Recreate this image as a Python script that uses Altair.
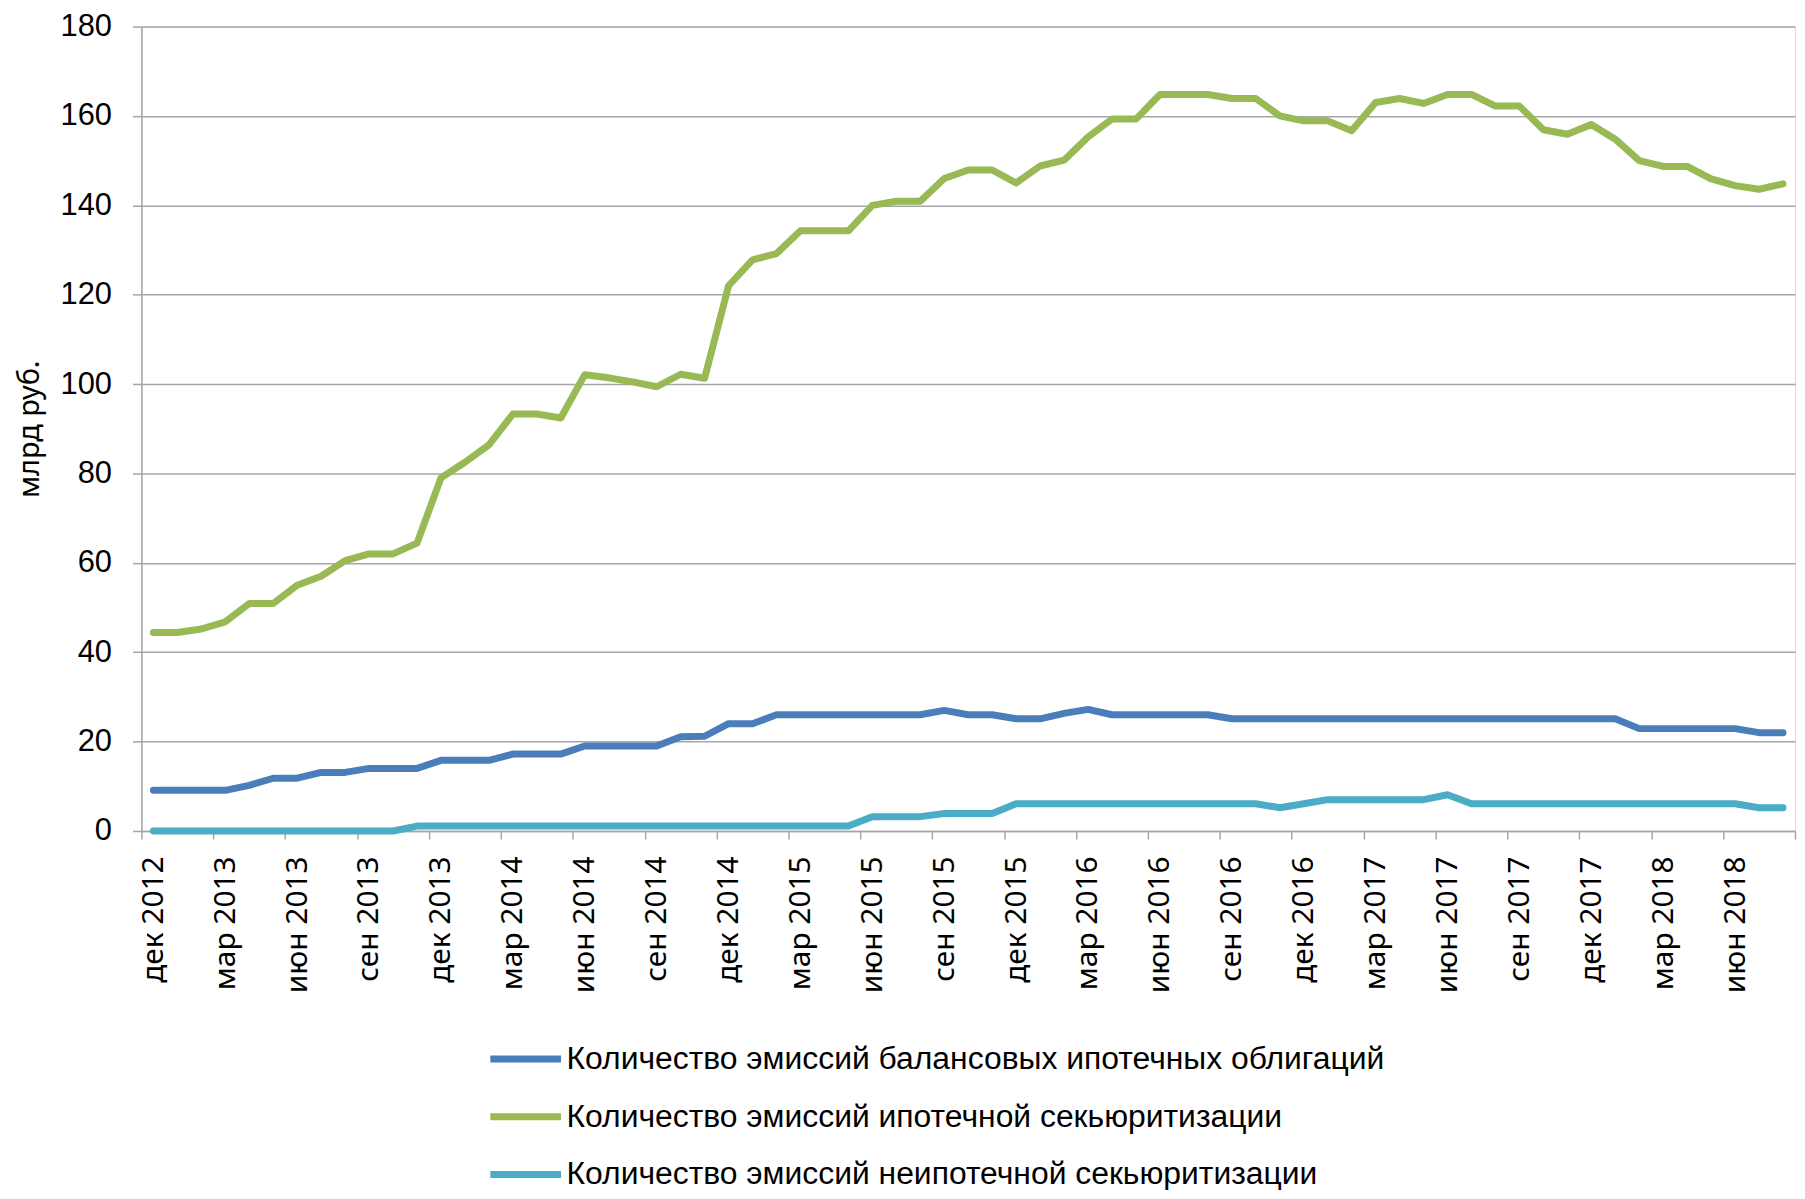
import altair as alt
import pandas as pd

# x: monthly points, дек 2012 (0) .. авг 2018 (68)
tick_labels = ["дек 2012", "мар 2013", "июн 2013", "сен 2013", "дек 2013", "мар 2014",
               "июн 2014", "сен 2014", "дек 2014", "мар 2015", "июн 2015", "сен 2015",
               "дек 2015", "мар 2016", "июн 2016", "сен 2016", "дек 2016", "мар 2017",
               "июн 2017", "сен 2017", "дек 2017", "мар 2018", "июн 2018"]

series_names = ["Количество эмиссий балансовых ипотечных облигаций",
                "Количество эмиссий ипотечной секьюритизации",
                "Количество эмиссий неипотечной секьюритизации"]
series_colors = ["#4A7EBB", "#98B954", "#4BACC6"]

balance = [9.1, 9.1, 9.1, 9.1, 10.2, 11.8, 11.8, 13.1, 13.1, 14, 14, 14,
           15.8, 15.8, 15.8, 17.2, 17.2, 17.2, 19, 19, 19, 19, 21.1, 21.2,
           24, 24, 26, 26, 26, 26, 26, 26, 26, 27, 26, 26,
           25.1, 25.1, 26.3, 27.2, 26, 26, 26, 26, 26, 25.1,
           25.1, 25.1, 25.1, 25.1, 25.1, 25.1, 25.1, 25.1, 25.1, 25.1, 25.1, 25.1,
           25.1, 25.1, 25.1, 25.1,
           22.9, 22.9, 22.9, 22.9, 22.9, 22, 22]

mortgage = [44.4, 44.4, 45.2, 46.8, 50.9, 50.9, 55, 57, 60.5, 62, 62, 64.4,
            79, 82.5, 86.4, 93.3, 93.3, 92.4, 102.1, 101.4, 100.5, 99.4, 102.2, 101.3,
            122, 127.8, 129.2, 134.3, 134.3, 134.3, 140, 140.9, 140.9, 146, 147.9, 147.9,
            145, 148.8, 150.1, 155.3, 159.3, 159.3, 164.8, 164.8, 164.8, 163.9, 163.9, 160,
            158.9, 158.9, 156.7, 163, 163.9, 162.8, 164.8, 164.8, 162.2, 162.2, 156.9, 155.9,
            158.1, 154.8, 150, 148.7, 148.7, 145.9, 144.4, 143.6, 144.8]

nonmortgage = [0, 0, 0, 0, 0, 0, 0, 0, 0, 0, 0,
               1.1, 1.1, 1.1, 1.1, 1.1, 1.1, 1.1, 1.1, 1.1, 1.1, 1.1, 1.1, 1.1, 1.1,
               1.1, 1.1, 1.1, 1.1, 1.1,
               3.2, 3.2, 3.2, 3.9, 3.9, 3.9,
               6.1, 6.1, 6.1, 6.1, 6.1, 6.1, 6.1, 6.1, 6.1, 6.1, 6.1,
               5.2, 6.1, 7, 7, 7, 7, 7, 8.1,
               6.1, 6.1, 6.1, 6.1, 6.1, 6.1, 6.1, 6.1, 6.1, 6.1, 6.1, 6.1,
               5.2, 5.2]

rows = []
for name, vals in zip(series_names, [balance, mortgage, nonmortgage]):
    for i, v in enumerate(vals):
        rows.append({"idx": i, "value": v, "series": name})
df = pd.DataFrame(rows)

n = len(mortgage)
tick_pos = [-0.5 + 3 * k for k in range(len(tick_labels) + 1)]
label_arr = "[" + ",".join("'" + s + "'" for s in tick_labels + [""]) + "]"
label_expr = label_arr + "[round((datum.value + 0.5) / 3)]"

GRID = "#A6A6A6"
TOP = 16
W, H = 1661, 808

chart = alt.Chart(df).mark_line(strokeWidth=7, strokeCap="round", strokeJoin="round").encode(
    x=alt.X("idx:Q",
            scale=alt.Scale(domain=[-0.5, n - 0.5], nice=False, zero=False),
            axis=alt.Axis(values=tick_pos, labelExpr=label_expr, title=None, grid=False,
                          labelAngle=270, labelAlign="right", labelBaseline="middle",
                          labelOffset=12, labelFlush=False, labelOverlap=False, labelBound=False,
                          labelFont="Noto Sans", labelFontSize=30, labelColor="#000000",
                          labelPadding=17, tickSize=8, tickColor=GRID, tickWidth=1.5,
                          domainColor=GRID, domainWidth=1.5)),
    y=alt.Y("value:Q",
            scale=alt.Scale(domain=[0, 180], nice=False),
            axis=alt.Axis(values=list(range(0, 181, 20)), title="млрд руб.",
                          grid=True, gridColor=GRID, gridWidth=1.5,
                          domainColor=GRID, domainWidth=1.5,
                          tickColor=GRID, tickWidth=1.5, tickSize=9,
                          labelFont="Liberation Sans", labelFontSize=31, labelColor="#000000",
                          labelPadding=21,
                          titleFont="Noto Sans", titleFontSize=29, titleFontWeight="normal",
                          titleColor="#000000", titleAngle=270, titleX=-112, titleY=H / 2,
                          titleAlign="center", titleBaseline="middle")),
    color=alt.Color("series:N",
                    scale=alt.Scale(domain=series_names, range=series_colors),
                    sort=series_names,
                    legend=alt.Legend(orient="none", legendX=347, legendY=1002 + 12 - TOP,
                                      title=None,
                                      symbolType="stroke", symbolSize=5041, symbolStrokeWidth=7,
                                      labelFont="Liberation Sans", labelFontSize=32,
                                      labelColor="#000000", labelOffset=2, rowPadding=3,
                                      labelLimit=0, direction="vertical")),
    order="idx:Q",
).properties(
    width=W, height=H,
    autosize=alt.AutoSizeParams(type="none"),
    padding={"left": 134, "top": TOP, "right": 2, "bottom": 1182 - TOP - H},
).configure_view(stroke=None).configure(background="white")

chart.save("out.html", embed_options={"renderer": "svg", "actions": False})
